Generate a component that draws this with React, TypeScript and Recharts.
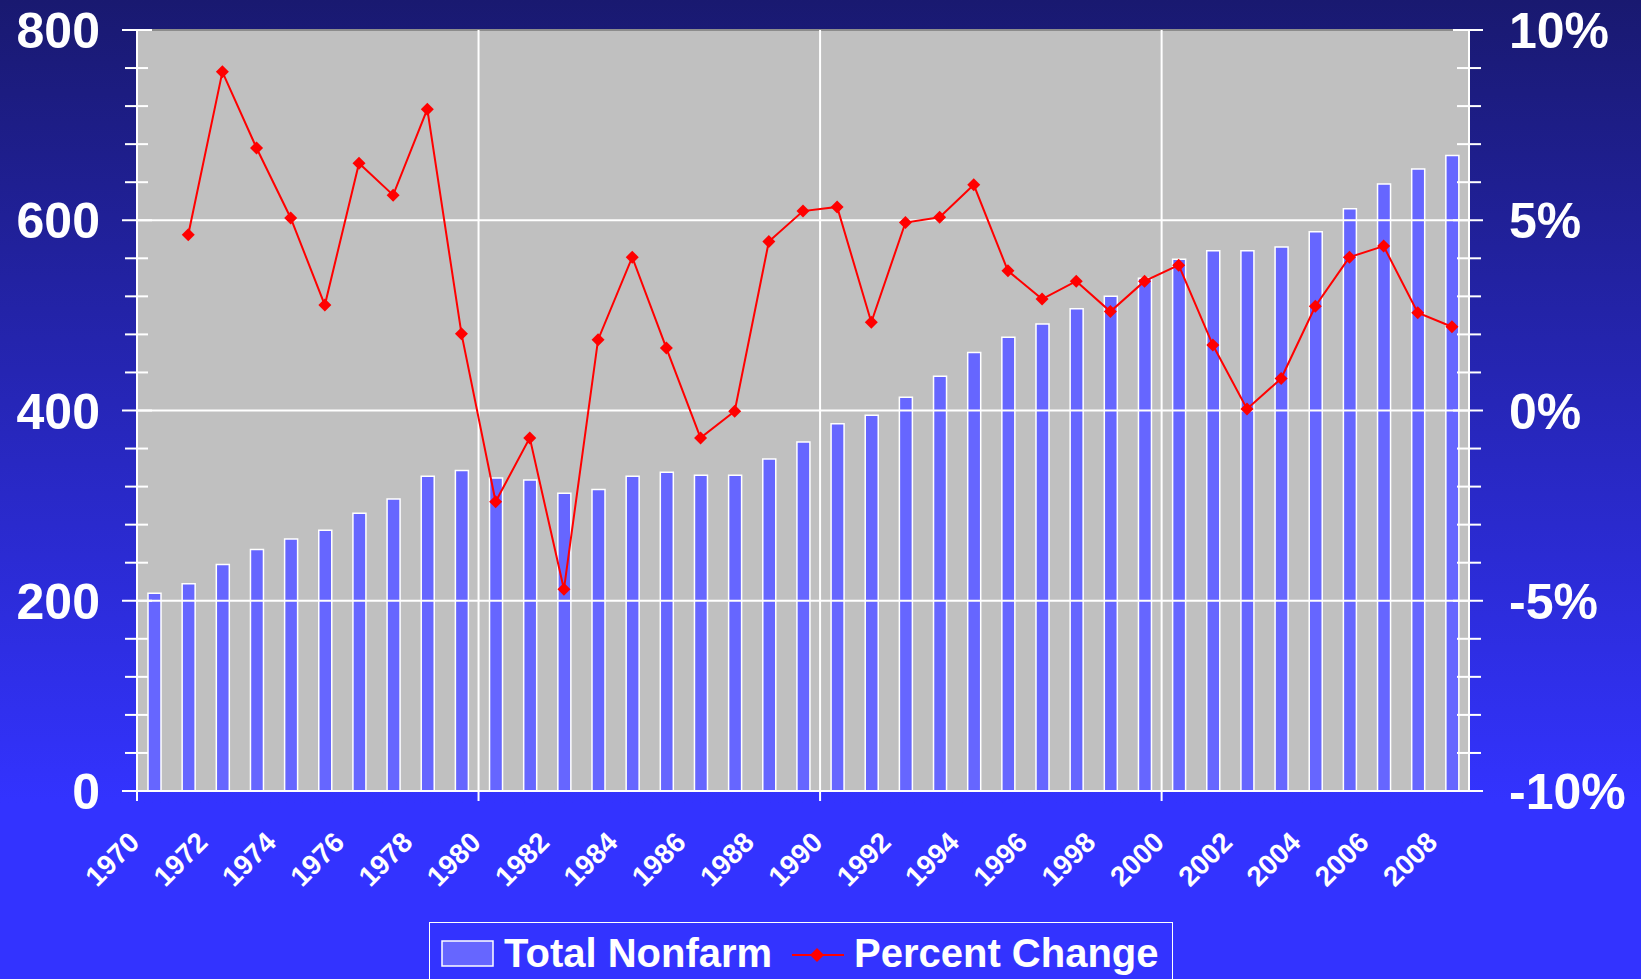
import React from 'react';
import { ComposedChart, Bar, Line, XAxis, YAxis, CartesianGrid, ReferenceLine } from 'recharts';

const years = [
  1970, 1971, 1972, 1973, 1974, 1975, 1976, 1977, 1978, 1979,
  1980, 1981, 1982, 1983, 1984, 1985, 1986, 1987, 1988, 1989,
  1990, 1991, 1992, 1993, 1994, 1995, 1996, 1997, 1998, 1999,
  2000, 2001, 2002, 2003, 2004, 2005, 2006, 2007, 2008,
];

// Total Nonfarm (bars, left axis)
const nonfarm = [
  208, 218, 238, 254, 265, 274, 292, 307, 331, 337,
  329, 327, 313, 317, 331, 335, 332, 332, 349, 367,
  386, 395, 414, 436, 461, 477, 491, 507, 520, 539,
  559, 568, 568, 572, 588, 612, 638, 654, 668,
];

// Percent Change (line, right axis)
const percentChange: (number | null)[] = [
  null, 4.62, 8.9, 6.9, 5.06, 2.77, 6.5, 5.66, 7.92, 2.02,
  -2.4, -0.72, -4.7, 1.86, 4.03, 1.64, -0.72, -0.02, 4.44, 5.24,
  5.35, 2.32, 4.94, 5.08, 5.93, 3.67, 2.93, 3.4, 2.6, 3.4,
  3.82, 1.72, 0.04, 0.84, 2.74, 4.03, 4.32, 2.57, 2.2,
];

const leftTicks = [0, 40, 80, 120, 160, 200, 240, 280, 320, 360, 400, 440, 480, 520, 560, 600, 640, 680, 720, 760, 800];
const leftMajor = [0, 200, 400, 600, 800];
const rightTicks = [-10, -9, -8, -7, -6, -5, -4, -3, -2, -1, 0, 1, 2, 3, 4, 5, 6, 7, 8, 9, 10];
const rightMajor = [-10, -5, 0, 5, 10];
const horizontalGrid = [200, 400, 600];
const verticalGrid = [1980, 1990, 2000];
const xTickMarks = [1970, 1980, 1990, 2000];

const FONT = "'Liberation Sans', Arial, Helvetica, sans-serif";

const data = years.map((year, i) => ({
  year,
  nonfarm: nonfarm[i],
  pct: percentChange[i],
}));

const LeftTick = ({ x, y, payload }: any) => {
  const major = leftMajor.includes(payload.value);
  return (
    <g>
      <line x1={major ? x - 15 : x - 12} x2={major ? x + 15 : x + 11} y1={y} y2={y} stroke="#fff" strokeWidth={2} />
      {major && (
        <text x={x - 37} y={y + 18} textAnchor="end" fill="#fff" fontSize={50} fontWeight="bold" fontFamily={FONT}>
          {payload.value}
        </text>
      )}
    </g>
  );
};

const RightTick = ({ x, y, payload }: any) => {
  const major = rightMajor.includes(payload.value);
  return (
    <g>
      <line x1={major ? x - 16 : x - 12} x2={major ? x + 14 : x + 12} y1={y} y2={y} stroke="#fff" strokeWidth={2} />
      {major && (
        <text x={x + 40} y={y + 18} textAnchor="start" fill="#fff" fontSize={50} fontWeight="bold" fontFamily={FONT}>
          {`${payload.value}%`}
        </text>
      )}
    </g>
  );
};

const YearTick = ({ x, y, payload }: any) => {
  const half = payload.offset || 17;
  const ex = x - 13;
  const ey = y + 53;
  return (
    <g>
      {xTickMarks.includes(payload.value) && (
        <line x1={x - half} x2={x - half} y1={y} y2={y + 10} stroke="#fff" strokeWidth={2} />
      )}
      <text
        x={ex}
        y={ey}
        textAnchor="end"
        transform={`rotate(-45 ${ex} ${ey})`}
        fill="#fff"
        fontSize={28}
        fontWeight="bold"
        fontFamily={FONT}
      >
        {payload.value}
      </text>
    </g>
  );
};

const Diamond = ({ cx, cy, value }: any) => {
  if (value == null || cx == null || cy == null) return null;
  const r = 6.5;
  return (
    <polygon points={`${cx},${cy - r} ${cx + r},${cy} ${cx},${cy + r} ${cx - r},${cy}`} fill="#ff0000" />
  );
};

const LegendBox = () => (
  <div
    style={{
      position: 'absolute',
      left: 429,
      top: 922,
      width: 742,
      height: 80,
      border: '1.5px solid #fff',
      fontFamily: FONT,
      fontWeight: 'bold',
      fontSize: 40,
      color: '#fff',
    }}
  >
    <svg width={60} height={30} style={{ position: 'absolute', left: 10, top: 16 }}>
      <rect x={2} y={2} width={51} height={25} fill="#6666ff" stroke="#fff" strokeWidth={1.5} />
    </svg>
    <span style={{ position: 'absolute', left: 74, top: 7, whiteSpace: 'nowrap', lineHeight: '46px' }}>Total Nonfarm</span>
    <svg width={60} height={20} style={{ position: 'absolute', left: 361, top: 22 }}>
      <line x1={1} x2={53} y1={10} y2={10} stroke="#ff0000" strokeWidth={2} />
      <polygon points="26,3 33,10 26,17 19,10" fill="#ff0000" />
    </svg>
    <span style={{ position: 'absolute', left: 424, top: 7, whiteSpace: 'nowrap', lineHeight: '46px' }}>Percent Change</span>
  </div>
);

export default function App() {
  return (
    <div
      style={{
        position: 'absolute',
        left: 0,
        top: 0,
        width: 1641,
        height: 979,
        overflow: 'hidden',
        background: 'linear-gradient(to bottom, #191970 0%, #3333ff 82%, #3333ff 100%)',
      }}
    >
      <ComposedChart width={1641} height={979} data={data} margin={{ top: 30, right: 0, bottom: 0, left: 0 }}>
        <CartesianGrid horizontal={false} vertical={false} fill="#c0c0c0" />
        <XAxis
          dataKey="year"
          height={188}
          interval={1}
          tickSize={0}
          tickMargin={0}
          tickLine={false}
          axisLine={{ stroke: '#fff', strokeWidth: 2 }}
          tick={<YearTick />}
        />
        <YAxis
          yAxisId="left"
          width={137}
          domain={[0, 800]}
          ticks={leftTicks}
          interval={0}
          tickSize={0}
          tickMargin={0}
          tickLine={false}
          axisLine={{ stroke: '#fff', strokeWidth: 2 }}
          tick={<LeftTick />}
        />
        <YAxis
          yAxisId="right"
          orientation="right"
          width={172}
          domain={[-10, 10]}
          ticks={rightTicks}
          interval={0}
          tickSize={0}
          tickMargin={0}
          tickLine={false}
          axisLine={{ stroke: '#fff', strokeWidth: 2 }}
          tick={<RightTick />}
        />
        <ReferenceLine yAxisId="left" y={800} stroke="#8c8c8c" strokeWidth={2} />
        {horizontalGrid.map((v) => (
          <ReferenceLine key={`h${v}`} yAxisId="left" y={v} stroke="#fff" strokeWidth={2} />
        ))}
        {verticalGrid.map((v) => (
          <ReferenceLine key={`v${v}`} yAxisId="left" x={v} position="start" stroke="#fff" strokeWidth={2} />
        ))}
        <Bar
          yAxisId="left"
          dataKey="nonfarm"
          barSize={13}
          fill="#6666ff"
          stroke="#fff"
          strokeWidth={1.5}
          isAnimationActive={false}
        />
        <Line
          yAxisId="right"
          dataKey="pct"
          stroke="#ff0000"
          strokeWidth={2}
          dot={<Diamond />}
          activeDot={false}
          isAnimationActive={false}
        />
      </ComposedChart>
      <LegendBox />
    </div>
  );
}
